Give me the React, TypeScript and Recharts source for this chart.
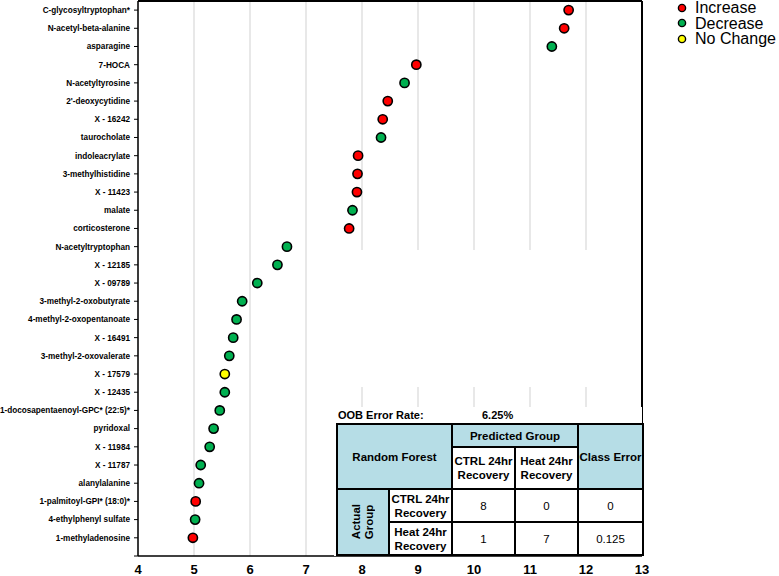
import {
  ScatterChart,
  Scatter,
  XAxis,
  YAxis,
  CartesianGrid,
  ReferenceLine,
} from "recharts";

const metabolites = [
  "C-glycosyltryptophan*",
  "N-acetyl-beta-alanine",
  "asparagine",
  "7-HOCA",
  "N-acetyltyrosine",
  "2'-deoxycytidine",
  "X - 16242",
  "taurocholate",
  "indoleacrylate",
  "3-methylhistidine",
  "X - 11423",
  "malate",
  "corticosterone",
  "N-acetyltryptophan",
  "X - 12185",
  "X - 09789",
  "3-methyl-2-oxobutyrate",
  "4-methyl-2-oxopentanoate",
  "X - 16491",
  "3-methyl-2-oxovalerate",
  "X - 17579",
  "X - 12435",
  "1-docosapentaenoyl-GPC* (22:5)*",
  "pyridoxal",
  "X - 11984",
  "X - 11787",
  "alanylalanine",
  "1-palmitoyl-GPI* (18:0)*",
  "4-ethylphenyl sulfate",
  "1-methyladenosine",
];

const importance = [
  11.69, 11.61, 11.39, 8.97, 8.76, 8.46, 8.37, 8.34, 7.93, 7.92, 7.91, 7.83,
  7.77, 6.66, 6.49, 6.13, 5.86, 5.76, 5.7, 5.63, 5.55, 5.55, 5.46, 5.35, 5.28,
  5.12, 5.09, 5.03, 5.02, 4.98,
];

const direction = [
  "Increase", "Increase", "Decrease", "Increase", "Decrease", "Increase",
  "Increase", "Decrease", "Increase", "Increase", "Increase", "Decrease",
  "Increase", "Decrease", "Decrease", "Decrease", "Decrease", "Decrease",
  "Decrease", "Decrease", "No Change", "Decrease", "Decrease", "Decrease",
  "Decrease", "Decrease", "Decrease", "Increase", "Decrease", "Increase",
];

const groups = ["Increase", "Decrease", "No Change"];
const groupColors: Record<string, string> = {
  Increase: "#ff0000",
  Decrease: "#00b050",
  "No Change": "#ffff00",
};

const xTicks = [4, 5, 6, 7, 8, 9, 10, 11, 12, 13];
const n = metabolites.length;
const yTicks = [0, ...metabolites.map((_, i) => n - i)];

const rows = metabolites.map((name, i) => ({
  name,
  x: importance[i],
  y: n - i,
  group: direction[i],
}));

const FONT = "'Liberation Sans', Arial, sans-serif";

function Dot(props: any) {
  const { cx, cy, fill } = props;
  return <circle cx={cx} cy={cy} r={4.6} fill={fill} stroke="#000" strokeWidth={1.6} />;
}

// single-line y tick (recharts would wrap the long names)
function NameTick(props: any) {
  const { x, y, payload } = props;
  const v = payload.value;
  const label = v >= 1 ? metabolites[n - v] : "";
  return (
    <text
      x={x}
      y={y}
      dy="0.35em"
      textAnchor="end"
      fontSize={8.2}
      fontWeight="bold"
      fill="#000"
      fontFamily={FONT}
    >
      {label}
    </text>
  );
}

function LegendBox() {
  return (
    <div
      style={{
        position: "absolute",
        left: 677,
        top: 0,
        fontFamily: FONT,
        fontSize: 16,
        lineHeight: "15.5px",
      }}
    >
      {groups.map((g) => (
        <div key={g} style={{ display: "flex", alignItems: "center" }}>
          <svg width={10} height={10} style={{ marginRight: 8 }}>
            <circle cx={5} cy={5} r={3.6} fill={groupColors[g]} stroke="#000" strokeWidth={1.4} />
          </svg>
          <span>{g}</span>
        </div>
      ))}
    </div>
  );
}

const cell: React.CSSProperties = {
  border: "2px solid #000",
  padding: 0,
  textAlign: "center",
  verticalAlign: "middle",
  fontWeight: "bold",
  lineHeight: "14px",
};
const blue = "#b6dde6";

function RfTable() {
  return (
    <div
      style={{
        position: "absolute",
        left: 334,
        top: 407,
        width: 308,
        background: "#fff",
        fontFamily: FONT,
        fontSize: 11.5,
      }}
    >
      <div style={{ height: 16, position: "relative", fontWeight: "bold", fontSize: 11 }}>
        <span style={{ position: "absolute", left: 4, top: 2 }}>OOB Error Rate:</span>
        <span style={{ position: "absolute", left: 148, top: 2 }}>6.25%</span>
      </div>
      <table
        style={{
          borderCollapse: "collapse",
          tableLayout: "fixed",
          width: 306,
          marginLeft: 2,
          border: "2.5px solid #000",
        }}
      >
        <colgroup>
          <col style={{ width: 52 }} />
          <col style={{ width: 63 }} />
          <col style={{ width: 63 }} />
          <col style={{ width: 63 }} />
          <col style={{ width: 65 }} />
        </colgroup>
        <tbody>
          <tr style={{ height: 23 }}>
            <td colSpan={2} rowSpan={2} style={{ ...cell, background: blue }}>
              Random Forest
            </td>
            <td colSpan={2} style={{ ...cell, background: blue }}>
              Predicted Group
            </td>
            <td rowSpan={2} style={{ ...cell, background: blue }}>
              Class Error
            </td>
          </tr>
          <tr style={{ height: 42 }}>
            <td style={cell}>CTRL 24hr Recovery</td>
            <td style={cell}>Heat 24hr Recovery</td>
          </tr>
          <tr style={{ height: 33 }}>
            <td rowSpan={2} style={{ ...cell, background: blue }}>
              <div
                style={{
                  writingMode: "vertical-rl",
                  transform: "rotate(180deg)",
                  margin: "0 auto",
                  lineHeight: "13px",
                }}
              >
                Actual
                <br />
                Group
              </div>
            </td>
            <td style={cell}>CTRL 24hr Recovery</td>
            <td style={{ ...cell, fontWeight: "normal" }}>8</td>
            <td style={{ ...cell, fontWeight: "normal" }}>0</td>
            <td style={{ ...cell, fontWeight: "normal" }}>0</td>
          </tr>
          <tr style={{ height: 33 }}>
            <td style={cell}>Heat 24hr Recovery</td>
            <td style={{ ...cell, fontWeight: "normal" }}>1</td>
            <td style={{ ...cell, fontWeight: "normal" }}>7</td>
            <td style={{ ...cell, fontWeight: "normal" }}>0.125</td>
          </tr>
        </tbody>
      </table>
    </div>
  );
}

export default function App() {
  return (
    <div
      style={{
        position: "absolute",
        left: 0,
        top: 0,
        width: 779,
        height: 576,
        background: "#fff",
        fontFamily: FONT,
        overflow: "hidden",
      }}
    >
      <ScatterChart
        width={779}
        height={576}
        margin={{ top: 1, right: 137, bottom: 0, left: 0 }}
      >
        <CartesianGrid horizontal={false} stroke="#d9d9d9" strokeWidth={1.2} />
        <XAxis
          type="number"
          dataKey="x"
          domain={[4, 13]}
          ticks={xTicks}
          interval={0}
          height={20}
          tickLine={false}
          tickSize={0}
          tickMargin={9}
          axisLine={{ stroke: "#000", strokeWidth: 1.5 }}
          tick={{ fontSize: 13, fontWeight: "bold", fill: "#000", fontFamily: FONT }}
        />
        <YAxis
          type="number"
          dataKey="y"
          domain={[0, n + 0.5]}
          ticks={yTicks}
          interval={0}
          width={138}
          tickSize={4}
          tickMargin={4}
          tickLine={{ stroke: "#000", strokeWidth: 1 }}
          axisLine={{ stroke: "#000", strokeWidth: 1.5 }}
          tick={<NameTick />}
        />
        <ReferenceLine y={n + 0.5} stroke="#000" strokeWidth={2} />
        <ReferenceLine x={13} stroke="#000" strokeWidth={2} />
        {groups.map((g) => (
          <Scatter
            key={g}
            name={g}
            data={rows.filter((r) => r.group === g)}
            fill={groupColors[g]}
            shape={<Dot />}
            isAnimationActive={false}
          />
        ))}
      </ScatterChart>
      <div
        style={{
          position: "absolute",
          left: 340,
          top: 250,
          width: 298,
          height: 137,
          background: "#fff",
        }}
      />
      <LegendBox />
      <RfTable />
    </div>
  );
}
